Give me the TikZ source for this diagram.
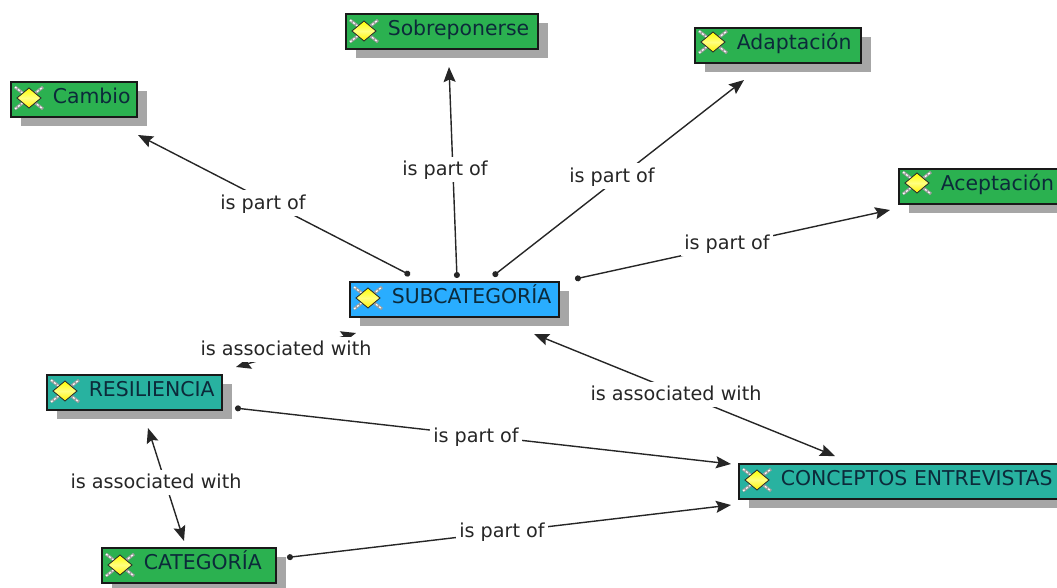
\documentclass[tikz,border=0pt]{standalone}
\usepackage{fontspec}
\setmainfont{DejaVu Sans}
\usetikzlibrary{shadows,arrows.meta}
\definecolor{codegreen}{HTML}{2BB150}
\definecolor{subblue}{HTML}{29ADFF}
\definecolor{groupteal}{HTML}{28B2A0}
\definecolor{shadowgray}{HTML}{A6A6A6}
\definecolor{textdark}{HTML}{0C2A3A}
\tikzset{
  cbox/.style={draw=black!90,line width=1.6pt,anchor=north west,minimum height=35pt,
    text width=#1,align=left,inner xsep=0pt,inner ysep=0pt,text=textdark,
    text height=15pt,text depth=6pt,font=\fontsize{20.4}{22}\selectfont,
    execute at begin node={\hspace*{42pt}},
    drop shadow={shadow xshift=10pt,shadow yshift=-9pt,opacity=1,fill=shadowgray}},
  link/.style={line width=1.4pt,black!85,{Circle[length=6pt]}-{Stealth[length=15pt,width=12pt,inset=2.5pt]}},
  assoc/.style={line width=1.4pt,black!85,{Stealth[length=15pt,width=12pt,inset=2.5pt]}-{Stealth[length=15pt,width=12pt,inset=2.5pt]}},
  lbl/.style={fill=white,inner xsep=3pt,inner ysep=3pt,text=black!85,text height=16pt,text depth=3.5pt,font=\fontsize{19.2}{21}\selectfont},
  pics/codeicon/.style={code={
    \draw[gray!75,line width=3pt] (-14,-11) -- (14,11) (-14,11) -- (14,-11);
    \draw[white,line width=1.2pt,dash pattern=on 2pt off 2pt] (-14,-11) -- (14,11) (-14,11) -- (14,-11);
    \draw[black!85,line width=.8pt,top color=yellow,bottom color=yellow!90!orange,middle color=yellow!50] (-12,0) -- (0,-10) -- (12,0) -- (0,10) -- cycle;
  }}
}
\begin{document}
\begin{tikzpicture}[x=1pt,y=-1pt]
  \useasboundingbox (0,0) rectangle (1057,587);
  \clip (0,0) rectangle (1057,587);

  % boxes
  \node[cbox=126pt,fill=codegreen] (cambio) at (10,81) {Cambio};
  \node[cbox=192pt,fill=codegreen] (sobreponerse) at (345,13) {Sobreponerse};
  \node[cbox=166pt,fill=codegreen] (adaptacion) at (694,27) {Adaptación};
  \node[cbox=175pt,fill=codegreen] (aceptacion) at (898,168) {Aceptación};
  \node[cbox=209pt,fill=subblue] (subcategoria) at (349,281) {SUBCATEGORÍA};
  \node[cbox=175pt,fill=groupteal] (resiliencia) at (46,374) {RESILIENCIA};
  \node[cbox=335pt,fill=groupteal] (conceptos) at (738,463) {CONCEPTOS ENTREVISTAS};
  \node[cbox=174pt,fill=codegreen] (categoria) at (101,547) {CATEGORÍA};

  \foreach \a/\x/\y in {cambio/29/98,sobreponerse/364/31,adaptacion/713/42,aceptacion/917/183,subcategoria/368/298,resiliencia/65/391,conceptos/757/480,categoria/120/565}{
    \pic at (\x,\y) {codeicon};
  }

  % ends of the connectors
  \coordinate (subA) at (410,275);
  \coordinate (subB) at (457,278);
  \coordinate (subC) at (493,276);
  \coordinate (subD) at (575,279);
  \coordinate (subE) at (534,334);
  \coordinate (subF) at (356,333);
  \coordinate (toCambio) at (138,135);
  \coordinate (toSobre) at (449,67);
  \coordinate (toAdapt) at (744,80);
  \coordinate (toAcept) at (890,210);
  \coordinate (toConcA) at (835,456);
  \coordinate (toConcB) at (731,464);
  \coordinate (toConcC) at (731,505);
  \coordinate (resB) at (235,408);
  \coordinate (resC) at (236,367);
  \coordinate (resD) at (148,428);
  \coordinate (catA) at (184,541);
  \coordinate (catB) at (287,557.5);

  \foreach \a/\b/\x/\y/\c in {subA/toCambio/263/203/cambio,subB/toSobre/445/169.5/sobre,subC/toAdapt/612/176/adapt,subD/toAcept/727/243/acept,resB/toConcB/476/436/concB,catB/toConcC/502/531/concC}{
    \draw[link] (\a) -- (\b);
    \node[lbl] (lbl\c) at (\x,\y) {is part of};
  }

  \foreach \a/\b/\x/\y/\c in {subE/toConcA/676/394.5/sub,subF/resC/286/349.5/res,resD/catA/156/482.5/cat}{
    \draw[assoc] (\a) -- (\b);
    \node[lbl] (lbl\c) at (\x,\y) {is associated with};
  }
\end{tikzpicture}
\end{document}
